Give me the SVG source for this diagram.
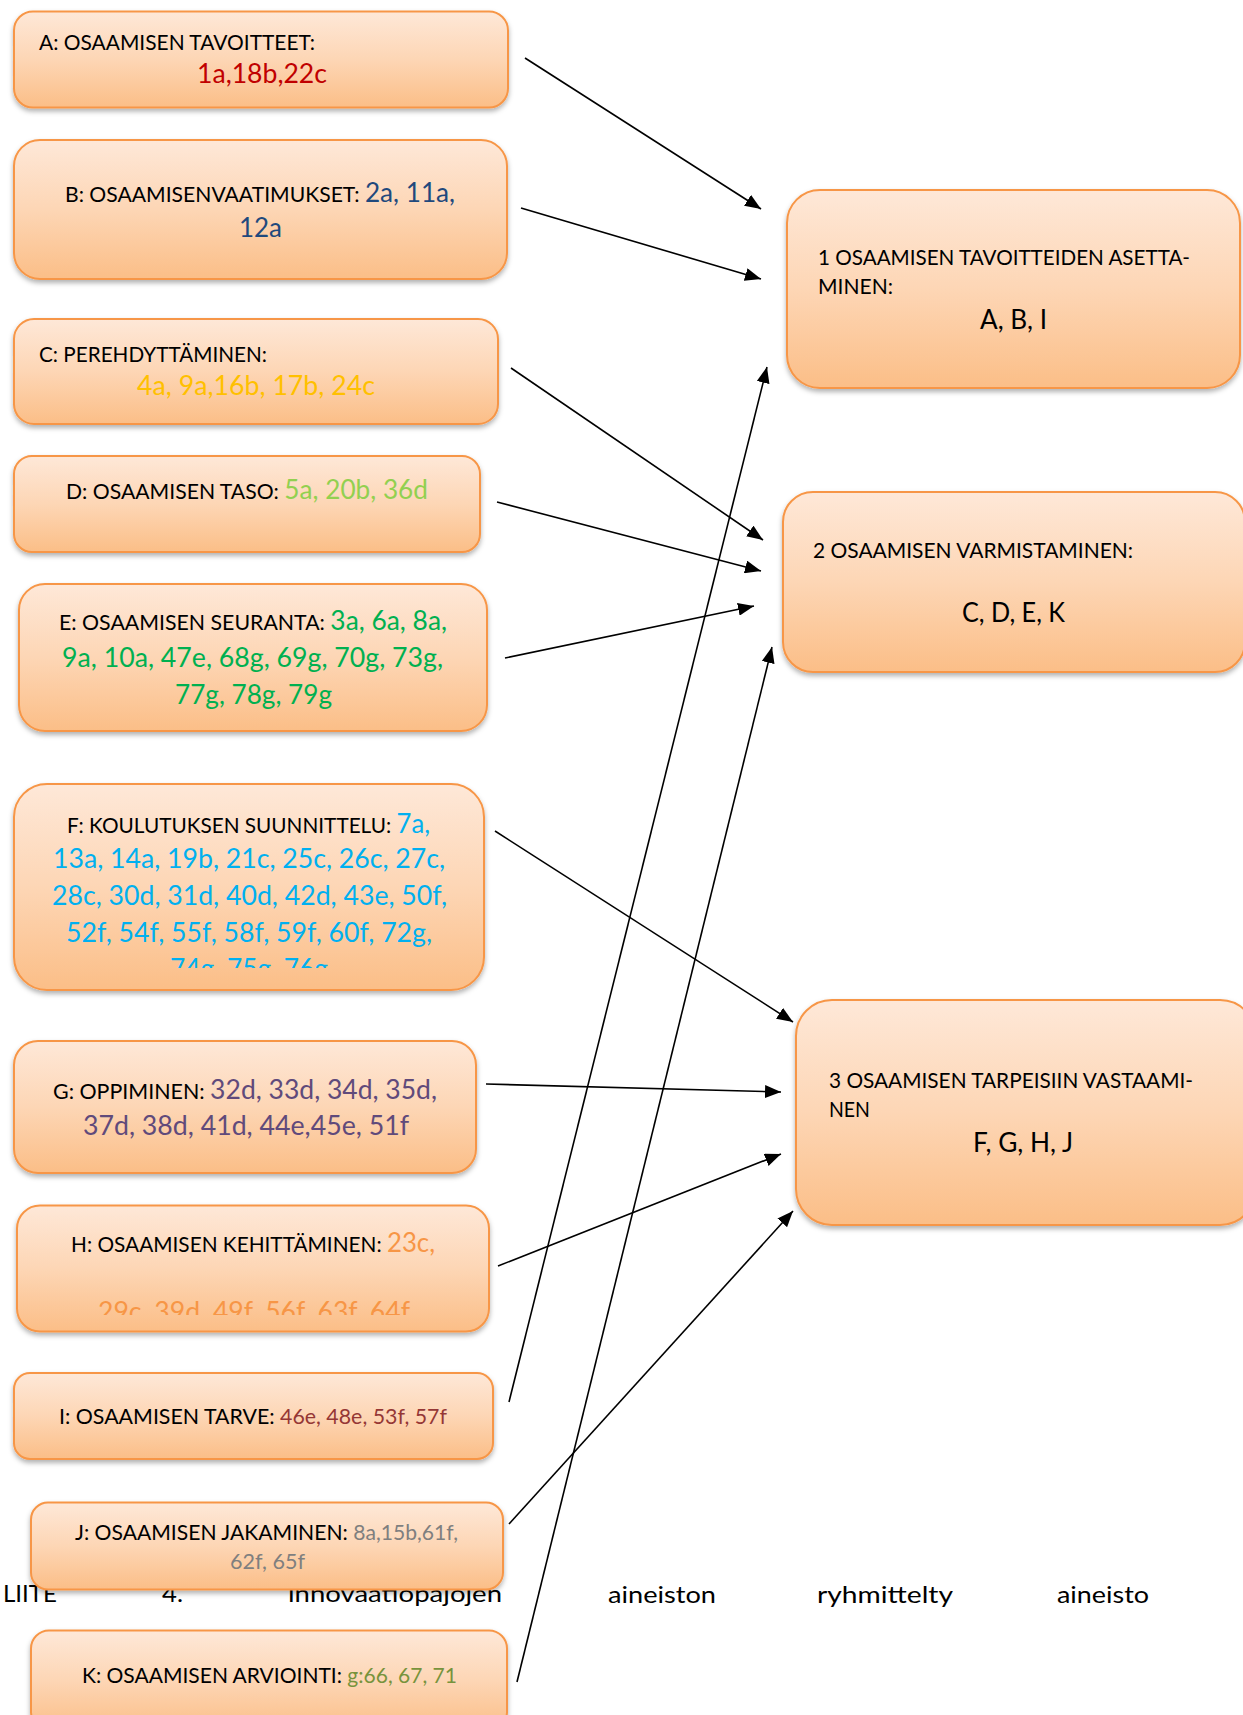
<svg xmlns="http://www.w3.org/2000/svg" width="1243" height="1715" viewBox="0 0 1243 1715">
<defs>
<linearGradient id="g" x1="0" y1="0" x2="0" y2="1">
<stop offset="0" stop-color="#FEE8D8"/>
<stop offset="0.5" stop-color="#FDD6B5"/>
<stop offset="1" stop-color="#FBBE87"/>
</linearGradient>
<filter id="sh" x="-5%" y="-10%" width="110%" height="130%">
<feDropShadow dx="0" dy="3" stdDeviation="2.5" flood-color="#000" flood-opacity="0.3"/>
</filter>
<marker id="ah" markerUnits="userSpaceOnUse" markerWidth="17" markerHeight="13" refX="16" refY="6.5" orient="auto">
<path d="M0,0 L16,6.5 L0,13 z" fill="#000"/>
</marker>
<clipPath id="clipF"><rect x="0" y="780" width="500" height="188"/></clipPath>
<clipPath id="clipH"><rect x="0" y="1200" width="500" height="115"/></clipPath>
</defs>
<style>
.box{fill:url(#g);stroke:#F79646;stroke-width:2;filter:url(#sh)}
text{font-family:Lato,"Liberation Sans",sans-serif;font-size:21px;fill:#000}
.n{font-size:26px}
.bg{font-size:24px;fill:#000}
.cA{fill:#C00000}.cB{fill:#1F497D}.cC{fill:#FFC000}.cD{fill:#92D050}.cE{fill:#00B050}
.cF{fill:#00B0F0}.cG{fill:#604A7B}.cH{fill:#F79646}.cI{fill:#953735}.cJ{fill:#7F7F7F}.cK{fill:#77933C}
.con line{stroke:#000;stroke-width:1.6;marker-end:url(#ah)}
</style>
<rect width="1243" height="1715" fill="#fff"/>

<g id="page-text">
<text class="bg" x="3" y="1602" textLength="54" lengthAdjust="spacingAndGlyphs">LIITE</text>
<text class="bg" x="162" y="1602" textLength="21" lengthAdjust="spacingAndGlyphs">4.</text>
<text class="bg" x="288" y="1602" textLength="214" lengthAdjust="spacingAndGlyphs">innovaatiopajojen</text>
<text class="bg" x="608" y="1603" textLength="108" lengthAdjust="spacingAndGlyphs">aineiston</text>
<text class="bg" x="817" y="1603" textLength="136" lengthAdjust="spacingAndGlyphs">ryhmittelty</text>
<text class="bg" x="1057" y="1603" textLength="92" lengthAdjust="spacingAndGlyphs">aineisto</text>
</g>

<g id="nodeA">
<rect class="box" x="14" y="11.5" width="494" height="96" rx="19"/>
<text x="39" y="50" textLength="276" lengthAdjust="spacingAndGlyphs">A: OSAAMISEN TAVOITTEET:</text>
<text class="n cA" x="197" y="83" textLength="130" lengthAdjust="spacingAndGlyphs">1a,18b,22c</text>
</g>

<g id="nodeB">
<rect class="box" x="14" y="140" width="493" height="139" rx="26"/>
<text x="65" y="202" textLength="390" lengthAdjust="spacingAndGlyphs">B: OSAAMISENVAATIMUKSET: <tspan class="n cB">2a, 11a,</tspan></text>
<text class="n cB" x="239" y="237" textLength="43" lengthAdjust="spacingAndGlyphs">12a</text>
</g>

<g id="nodeC">
<rect class="box" x="14" y="319" width="484" height="105" rx="20"/>
<text x="39" y="362" textLength="228" lengthAdjust="spacingAndGlyphs">C: PEREHDYTTÄMINEN:</text>
<text class="n cC" x="137" y="395" textLength="238" lengthAdjust="spacingAndGlyphs">4a, 9a,16b, 17b, 24c</text>
</g>

<g id="nodeD">
<rect class="box" x="14" y="456" width="466" height="96" rx="18"/>
<text x="66" y="499" textLength="362" lengthAdjust="spacingAndGlyphs">D: OSAAMISEN TASO: <tspan class="n cD">5a, 20b, 36d</tspan></text>
</g>

<g id="nodeE">
<rect class="box" x="19" y="584" width="468" height="147" rx="26"/>
<text x="59" y="630" textLength="388" lengthAdjust="spacingAndGlyphs">E: OSAAMISEN SEURANTA: <tspan class="n cE">3a, 6a, 8a,</tspan></text>
<text class="n cE" x="62" y="667" textLength="381" lengthAdjust="spacingAndGlyphs">9a, 10a, 47e, 68g, 69g, 70g, 73g,</text>
<text class="n cE" x="175" y="704" textLength="157" lengthAdjust="spacingAndGlyphs">77g, 78g, 79g</text>
</g>

<g id="nodeF">
<rect class="box" x="14" y="784" width="470" height="206" rx="33"/>
<text x="67" y="833" textLength="363" lengthAdjust="spacingAndGlyphs">F: KOULUTUKSEN SUUNNITTELU: <tspan class="n cF">7a,</tspan></text>
<text class="n cF" x="53" y="868" textLength="392" lengthAdjust="spacingAndGlyphs">13a, 14a, 19b, 21c, 25c, 26c, 27c,</text>
<text class="n cF" x="52" y="905" textLength="395" lengthAdjust="spacingAndGlyphs">28c, 30d, 31d, 40d, 42d, 43e, 50f,</text>
<text class="n cF" x="66" y="942" textLength="366" lengthAdjust="spacingAndGlyphs">52f, 54f, 55f, 58f, 59f, 60f, 72g,</text>
<g clip-path="url(#clipF)">
<text class="n cF" x="170" y="978" textLength="158" lengthAdjust="spacingAndGlyphs">74g, 75g, 76g</text>
</g>
</g>

<g id="nodeG">
<rect class="box" x="14" y="1041" width="462" height="132" rx="24"/>
<text x="53" y="1099" textLength="384" lengthAdjust="spacingAndGlyphs">G: OPPIMINEN: <tspan class="n cG">32d, 33d, 34d, 35d,</tspan></text>
<text class="n cG" x="83" y="1135" textLength="326" lengthAdjust="spacingAndGlyphs">37d, 38d, 41d, 44e,45e, 51f</text>
</g>

<g id="nodeH">
<rect class="box" x="17" y="1205.5" width="472" height="126" rx="23"/>
<text x="71" y="1252" textLength="364" lengthAdjust="spacingAndGlyphs">H: OSAAMISEN KEHITTÄMINEN: <tspan class="n cH">23c,</tspan></text>
<g clip-path="url(#clipH)">
<text class="n cH" x="98" y="1321" textLength="312" lengthAdjust="spacingAndGlyphs">29c, 39d, 49f, 56f, 63f, 64f</text>
</g>
</g>

<g id="nodeI">
<rect class="box" x="14" y="1373" width="479" height="86" rx="16"/>
<text x="59" y="1424" textLength="388" lengthAdjust="spacingAndGlyphs">I: OSAAMISEN TARVE: <tspan class="cI">46e, 48e, 53f, 57f</tspan></text>
</g>

<g id="nodeJ">
<rect class="box" x="31" y="1502.5" width="472" height="87" rx="17"/>
<text x="75" y="1540" textLength="383" lengthAdjust="spacingAndGlyphs">J: OSAAMISEN JAKAMINEN: <tspan class="cJ">8a,15b,61f,</tspan></text>
<text class="cJ" x="230" y="1569" textLength="75" lengthAdjust="spacingAndGlyphs">62f, 65f</text>
</g>

<g id="nodeK">
<rect class="box" x="31" y="1630.5" width="476" height="100" rx="18"/>
<text x="82" y="1683" textLength="375" lengthAdjust="spacingAndGlyphs">K: OSAAMISEN ARVIOINTI: <tspan class="cK">g:66, 67, 71</tspan></text>
</g>

<g id="node1">
<rect class="box" x="787" y="190" width="453" height="198" rx="33"/>
<text x="818" y="265" textLength="372" lengthAdjust="spacingAndGlyphs">1 OSAAMISEN TAVOITTEIDEN ASETTA-</text>
<text x="818" y="294" textLength="75" lengthAdjust="spacingAndGlyphs">MINEN:</text>
<text class="n" x="980" y="329" textLength="67" lengthAdjust="spacingAndGlyphs">A, B, I</text>
</g>

<g id="node2">
<rect class="box" x="783" y="492" width="462" height="180" rx="30"/>
<text x="813" y="558" textLength="320" lengthAdjust="spacingAndGlyphs">2 OSAAMISEN VARMISTAMINEN:</text>
<text class="n" x="962" y="622" textLength="103" lengthAdjust="spacingAndGlyphs">C, D, E, K</text>
</g>

<g id="node3">
<rect class="box" x="796" y="1000" width="460" height="225" rx="36"/>
<text x="829" y="1088" textLength="364" lengthAdjust="spacingAndGlyphs">3 OSAAMISEN TARPEISIIN VASTAAMI-</text>
<text x="829" y="1117" textLength="41" lengthAdjust="spacingAndGlyphs">NEN</text>
<text class="n" x="973" y="1152" textLength="100" lengthAdjust="spacingAndGlyphs">F, G, H, J</text>
</g>

<g id="connectors" class="con">
<line x1="525" y1="58" x2="761" y2="209"/>
<line x1="521" y1="208" x2="761" y2="279"/>
<line x1="511" y1="368" x2="763" y2="540"/>
<line x1="497" y1="502" x2="761" y2="571"/>
<line x1="505" y1="658" x2="754" y2="606"/>
<line x1="495" y1="831" x2="793" y2="1022"/>
<line x1="486" y1="1084" x2="781" y2="1092"/>
<line x1="498" y1="1266" x2="781" y2="1154"/>
<line x1="509" y1="1402" x2="767" y2="367"/>
<line x1="509" y1="1524" x2="793" y2="1211"/>
<line x1="517" y1="1682" x2="772" y2="647"/>
</g>
</svg>
